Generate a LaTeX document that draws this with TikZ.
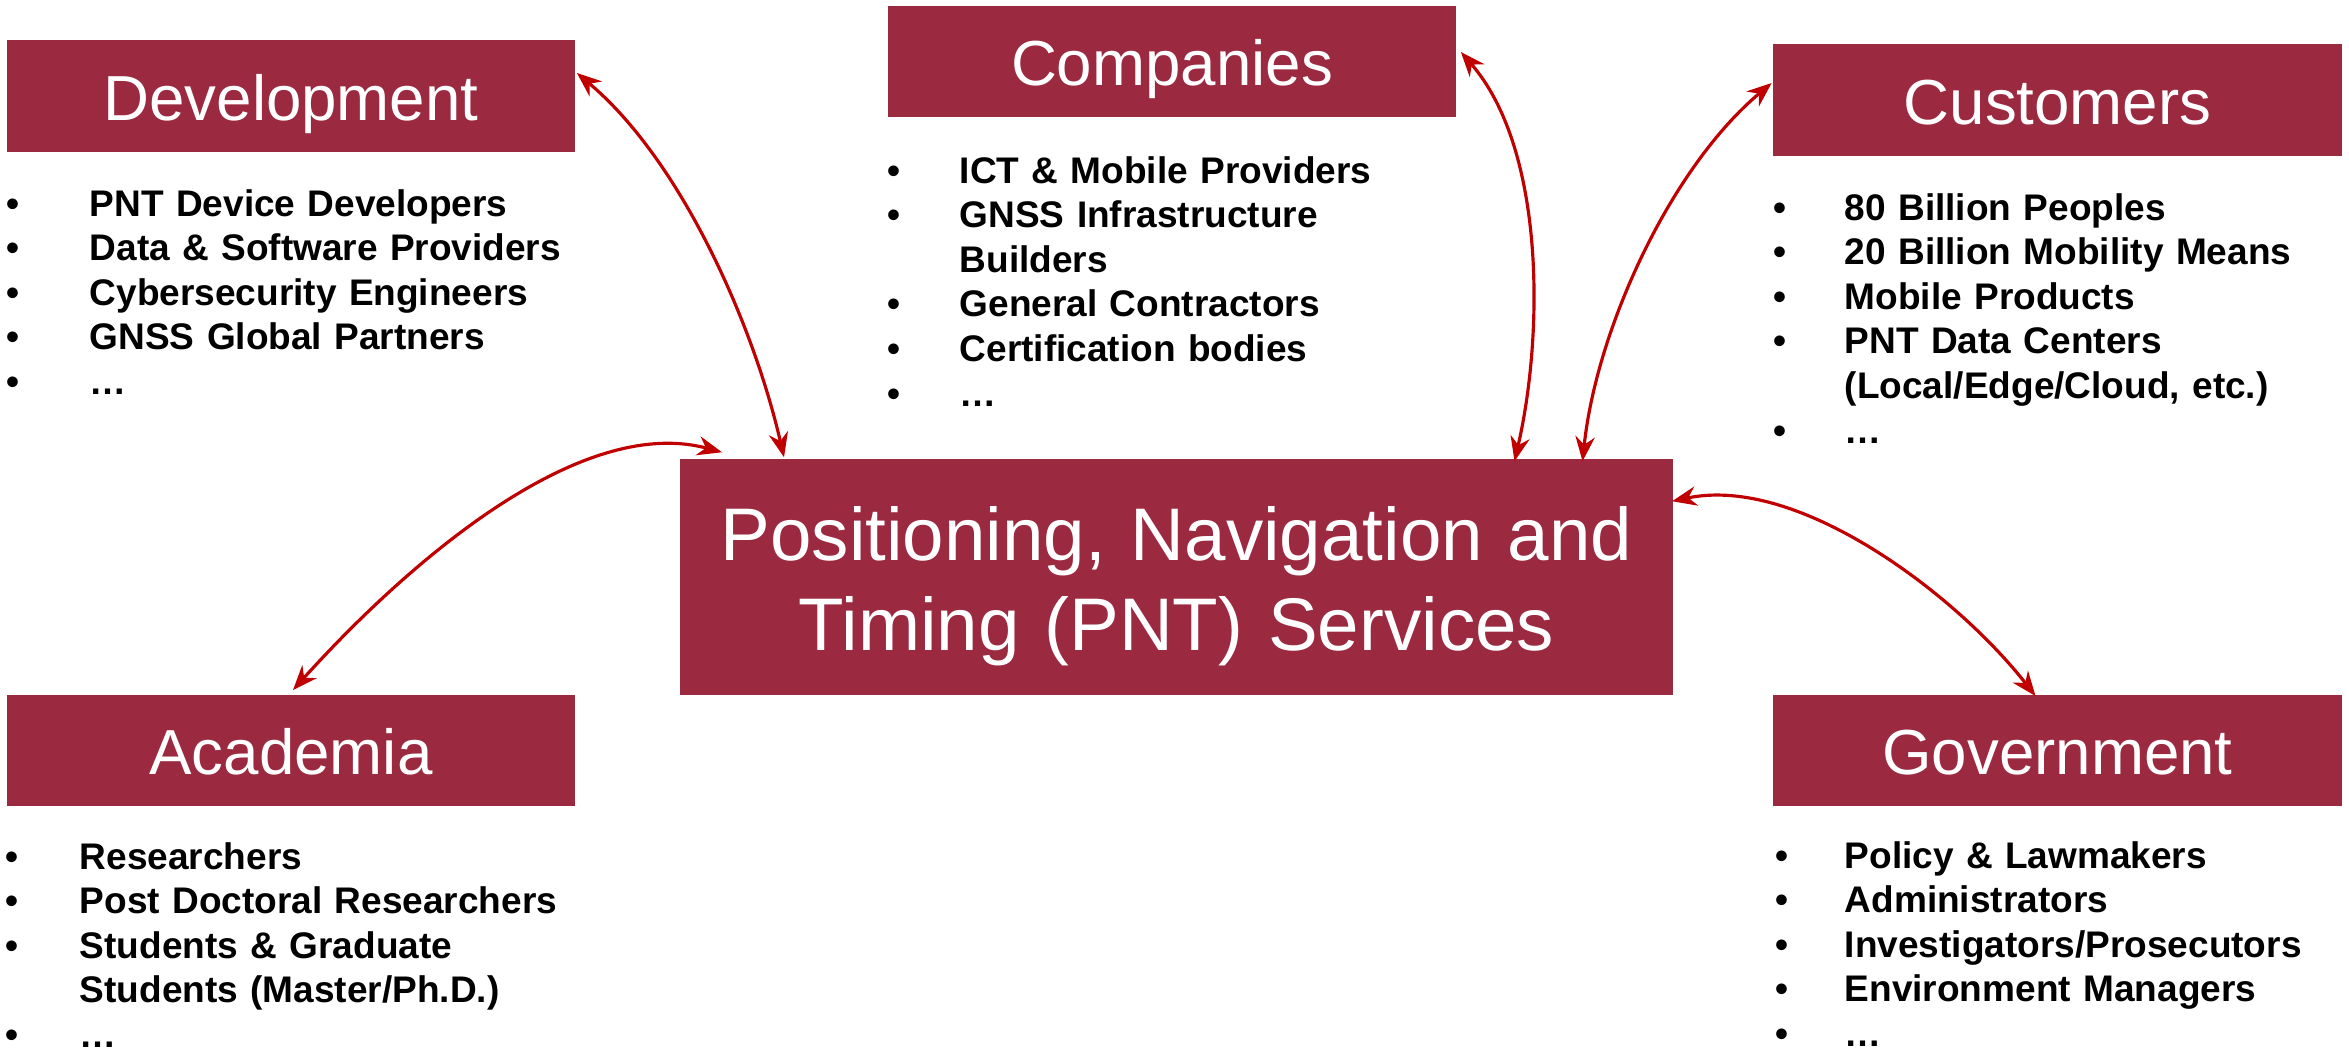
\documentclass[tikz,border=0pt]{standalone}
\usepackage{fontspec}
\setmainfont{Liberation Sans}
\usetikzlibrary{positioning, arrows.meta, calc}
\definecolor{boxred}{RGB}{155,41,64}
\definecolor{linkred}{RGB}{192,0,0}
\newlength{\bulwd}
\newcommand{\itm}[1]{\makebox[\bulwd][l]{\textbullet}#1}
\newcommand{\cnt}[1]{\hspace*{\bulwd}#1}

\begin{document}
\begin{tikzpicture}[x=0.01cm, y=0.01cm,
  group/.style={fill=boxred, text=white, inner sep=0pt,
    minimum width=5.68cm, minimum height=1.115cm,
    font=\fontsize{18.1}{21.7}\selectfont,
    text height=0.62cm, text depth=0.14cm},
  hub/.style={fill=boxred, text=white, inner sep=0pt,
    text width=9.93cm, align=center,
    minimum width=9.93cm, minimum height=2.36cm,
    font=\fontsize{21.2}{25.6}\selectfont,
    text height=0.72cm, text depth=1.06cm},
  members/.style={anchor=base west, inner sep=0pt, text width=6.5cm,
    align=left, font=\bfseries\fontsize{10.53}{12.69}\selectfont},
  link/.style={linkred, line width=0.9pt, looseness=0.8,
    {Stealth[length=7pt,width=5.5pt]}-{Stealth[length=7pt,width=5.5pt]}}]
  \useasboundingbox (0,0) rectangle (2349,-1053);

  % Stakeholder groups
  \node[group] (dev)  at (291,-96)       {Development};
  \node[group] (comp) at (1172,-61.5)    {Companies};
  \node[group] (cust) at (2057.5,-100)   {Customers};
  \node[group] (acad) at (291,-750.5)    {Academia};
  \node[group] (gov)  at (2057.5,-750.5) {Government};

  % Services in the middle
  \node[hub] (pnt) at (1176.5,-577)
    {Positioning, Navigation and\\Timing (PNT) Services};

  % Member lists
  \node[members] (devlist) at (6,-216) {\setlength{\bulwd}{0.83cm}%
    \itm{PNT Device Developers}\\
    \itm{Data \& Software Providers}\\
    \itm{Cybersecurity Engineers}\\
    \itm{GNSS Global Partners}\\
    \itm{…}};
  \node[members] (complist) at (887,-183) {\setlength{\bulwd}{0.72cm}%
    \itm{ICT \& Mobile Providers}\\
    \itm{GNSS Infrastructure}\\
    \cnt{Builders}\\
    \itm{General Contractors}\\
    \itm{Certification bodies}\\
    \itm{…}};
  \node[members] (custlist) at (1773,-220) {\setlength{\bulwd}{0.71cm}%
    \itm{80 Billion Peoples}\\
    \itm{20 Billion Mobility Means}\\
    \itm{Mobile Products}\\
    \itm{PNT Data Centers}\\
    \cnt{(Local/Edge/Cloud, etc.)}\\
    \itm{…}};
  \node[members] (acadlist) at (5,-869) {\setlength{\bulwd}{0.74cm}%
    \itm{Researchers}\\
    \itm{Post Doctoral Researchers}\\
    \itm{Students \& Graduate}\\
    \cnt{Students (Master/Ph.D.)}\\
    \itm{…}};
  \node[members] (govlist) at (1775,-868) {\setlength{\bulwd}{0.69cm}%
    \itm{Policy \& Lawmakers}\\
    \itm{Administrators}\\
    \itm{Investigators/Prosecutors}\\
    \itm{Environment Managers}\\
    \itm{…}};

  % Links
  \draw[link] ($(pnt.north west)+(105,1)$) to[out=103, in=-40] ($(dev.east)+(1,23)$);
  \draw[link] ($(pnt.north)+(338,-3)$) to[out=77, in=-49] ($(comp.east)+(4,9.5)$);
  \draw[link] ($(pnt.north)+(406,-3)$) to[out=84, in=220] ($(cust.west)+(-1,17)$);
  \draw[link] ($(pnt.north west)+(43,6)$) to[out=165, in=48] ($(acad.north)+(2,4)$);
  \draw[link] ($(pnt.north east)+(-2,-43)$) to[out=12, in=128] ($(gov.north)+(-22,-2)$);
\end{tikzpicture}
\end{document}
